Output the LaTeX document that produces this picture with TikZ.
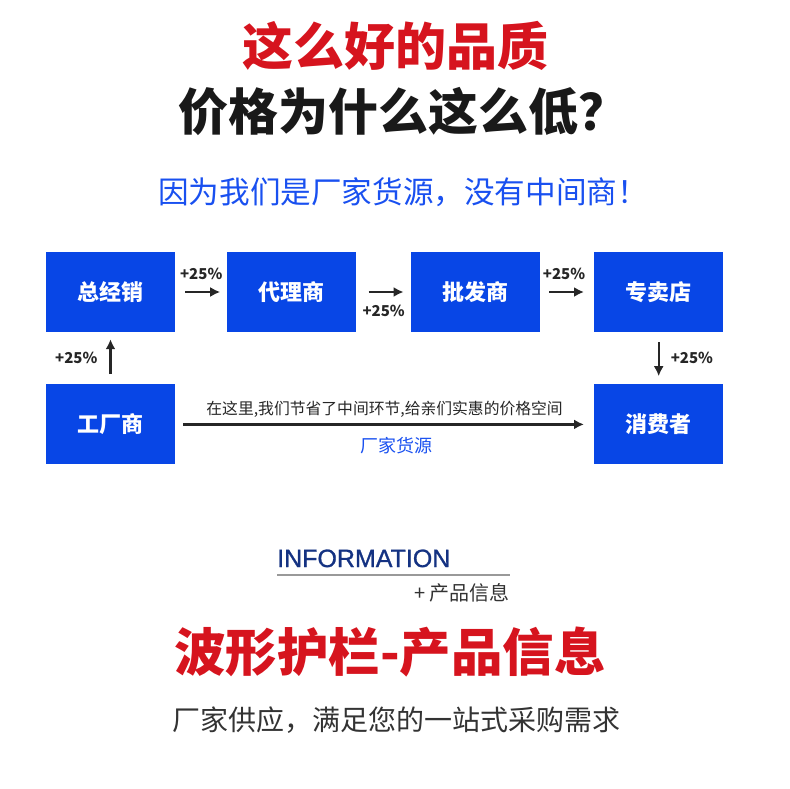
\documentclass[tikz,border=0pt]{standalone}
\usepackage{fontspec}
\usepackage{xcolor}
\usetikzlibrary{arrows.meta,positioning}
\newfontfamily\cjk{Noto Sans CJK SC}
\newfontfamily\latinfont[FakeBold=1]{Liberation Sans}
\definecolor{boxblue}{RGB}{8,70,230}
\definecolor{titlered}{RGB}{214,20,30}
\definecolor{subblue}{RGB}{25,80,240}
\definecolor{infonavy}{RGB}{20,50,130}
\definecolor{textgray}{RGB}{51,51,51}
\tikzset{%Global config
	>={Latex[length=10pt,width=10pt]},
	color = black ,
	%Styles
	Box/.style={
		fill=boxblue,
		text=white,
		minimum width=129pt,
		minimum height=80pt,
		inner sep=0pt,
		font=\cjk\bfseries\fontsize{22}{22}\selectfont,
	},
	Arr/.style={
		->,
		line width=2.2pt,
		draw=black!85,
	},
	Pct/.style={
		inner sep=0pt,
		text=black!85,
		font=\cjk\bfseries\fontsize{15}{15}\selectfont,
	},
	Title/.style={
		inner sep=0pt,
		font=\cjk\bfseries\fontsize{#1}{#1}\selectfont,
	},
	Plain/.style={
		inner sep=0pt,
		font=\cjk\fontsize{#1}{#1}\selectfont,
	},
}
\begin{document}
\begin{tikzpicture}[x=1pt,y=-1pt]
	\useasboundingbox (0,0) rectangle (790,789);
	% Headings
	\node[Title=51, text=titlered] (head1) at (395.5,46) {这么好的品质};
	\node[Title=50, text=black!90, anchor=west] (head2) at (178,112) {价格为什么这么低？};
	\node[Plain=30.6, text=subblue, anchor=west] (head3) at (158,192) {因为我们是厂家货源，没有中间商！};
	
	% Chain of sellers
	\node[Box] (zjx) at (110.5,292) {总经销};
	\node[Box, right=52pt of zjx] (dls) {代理商};
	\node[Box, right=54pt of dls] (pfs) {批发商};
	\node[Box, right=54pt of pfs] (zmd) {专卖店};
	\node[Box, below=52pt of zjx] (gcs) {工厂商};
	\node[Box, below=52pt of zmd] (xfz) {消费者};
	
	\draw[Arr, shorten <=10pt, shorten >=7pt] (gcs) -- node[Pct, left=12pt]{+25\%} (zjx);
	\draw[Arr, shorten <=10pt, shorten >=7pt] (zjx) -- node[Pct, above=11pt]{+25\%} (dls);
	\draw[Arr, shorten <=12pt, shorten >=7pt] (dls) -- node[Pct, below=12pt]{+25\%} (pfs);
	\draw[Arr, shorten <=9pt, shorten >=10pt] (pfs) -- node[Pct, above=11pt, xshift=-3pt]{+25\%} (zmd);
	\draw[Arr, shorten <=10pt, shorten >=8pt] (zmd) -- node[Pct, right=11pt]{+25\%} (xfz);
	\draw[Arr, shorten <=8pt, shorten >=10pt] (gcs) --
		node[Plain=15.8, text=black!85, above=6pt]{在这里,我们节省了中间环节,给亲们实惠的价格空间}
		node[Plain=18, text=subblue, below=12pt, xshift=12pt]{厂家货源} (xfz);
	
	% Information block
	\node[inner sep=0pt, anchor=base west, text=infonavy, font=\latinfont\fontsize{25}{25}\selectfont] (info) at (277,567) {INFORMATION};
	\draw[line width=1.5pt, black!40] (277,575) -- (510,575);
	\node[Plain=20, text=textgray, anchor=east] (infosub) at (510,593) {+ 产品信息};
	\node[Title=51.5, text=titlered] (head4) at (390,652) {波形护栏-产品信息};
	\node[Plain=28, text=textgray] (foot) at (396,720) {厂家供应，满足您的一站式采购需求};
\end{tikzpicture}
\end{document}
